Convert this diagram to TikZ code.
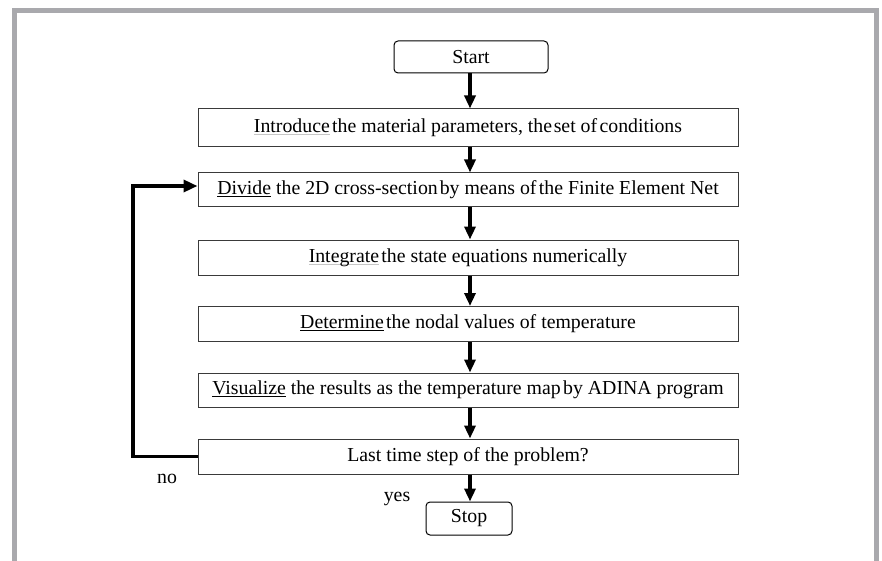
\documentclass[tikz,border=0pt]{standalone}
\usepackage{fontspec}
\setmainfont{Liberation Serif}
\usetikzlibrary{arrows.meta}
\definecolor{framegrey}{HTML}{A9A9AD}
\definecolor{boxline}{HTML}{3A3A3A}
\newcommand\myul[2]{{\setbox0\hbox{#2}\rlap{\textcolor{#1}{\rule[-2.6pt]{\wd0}{1.3pt}}}\box0}}
\begin{document}
\begin{tikzpicture}[x=1pt,y=-1pt,
  every node/.style={font=\fontsize{19.8}{22}\selectfont, inner sep=0pt},
  box/.style={draw=boxline, line width=1pt, minimum width=540pt, fill=white},
  term/.style={draw=black, line width=1pt, rounded corners=4pt, fill=white},
  arr/.style={line width=3.4pt, -{Triangle[length=13pt,width=11pt]}},
  loopline/.style={line width=3.4pt, -{Triangle[length=14pt,width=12pt]}}]
\useasboundingbox (0,0) rectangle (882,561);
\fill[white] (0,0) rectangle (882,561);
% frame
\fill[framegrey] (12,8) rectangle (879,13);
\fill[framegrey] (12,8) rectangle (17,561);
\fill[framegrey] (874,8) rectangle (879,561);
% nodes
\node[term, minimum width=154pt, minimum height=32pt] (start) at (471,57) {Start};
\node[box, minimum height=38pt] (b1) at (468,128) {\myul{gray!45}{Introduce}\hspace{0.12em}the material parameters, the\hspace{0.08em}set of\hspace{0.12em}conditions};
\node[box, minimum height=34pt] (b2) at (468,190) {\myul{black}{Divide} the 2D cross-section\hspace{0.1em}by means of\hspace{0.12em}the Finite Element Net};
\node[box, minimum height=35pt] (b3) at (468,257.5) {\myul{gray!45}{Integrate}\hspace{0.12em}the state equations numerically};
\node[box, minimum height=35pt] (b4) at (468,324) {\myul{black}{Determine}\hspace{0.12em}the nodal values of temperature};
\node[box, minimum height=34pt] (b5) at (468,390) {\myul{black}{Visualize} the results as the temperature map\hspace{0.12em}by ADINA program};
\node[box, minimum height=35pt] (b6) at (468,456.5) {Last time step of the problem?};
\node[term, minimum width=86pt, minimum height=33pt] (stop) at (469,518.5) {Stop};
\node (no) at (167,479) {no};
\node (yes) at (397,499) {yes};
% connectors
\coordinate (ax) at (470,0);
\coordinate (lx) at (133,0);
\draw[arr] (start.south -| ax) -- (b1.north -| ax);
\draw[arr] (b1.south -| ax) -- (b2.north -| ax);
\draw[arr] (b2.south -| ax) -- (b3.north -| ax);
\draw[arr] (b3.south -| ax) -- (b4.north -| ax);
\draw[arr] (b4.south -| ax) -- (b5.north -| ax);
\draw[arr] (b5.south -| ax) -- (b6.north -| ax);
\draw[arr] (b6.south -| ax) -- (stop.north -| ax);
\draw[loopline] (b6.west) -- (b6.west -| lx) -- ([yshift=4pt]b2.west -| lx) -- ([yshift=4pt]b2.west);
\end{tikzpicture}
\end{document}
